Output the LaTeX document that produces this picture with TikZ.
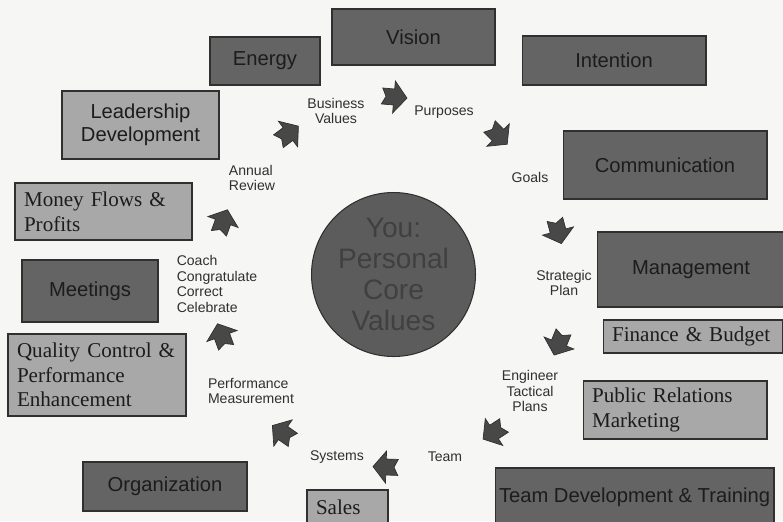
\documentclass[tikz,border=0pt]{standalone}
\usepackage{fontspec}
\setmainfont{Liberation Serif}
\setsansfont{Liberation Sans}
\usetikzlibrary{positioning}

\definecolor{paper}{RGB}{246,246,244}
\definecolor{darkfill}{RGB}{100,100,100}
\definecolor{lightfill}{RGB}{168,168,168}
\definecolor{corefill}{RGB}{92,92,92}
\definecolor{coretext}{RGB}{64,64,64}
\definecolor{boxedge}{RGB}{48,48,48}
\definecolor{boxtext}{RGB}{28,28,28}
\definecolor{labeltext}{RGB}{48,48,48}
\definecolor{arrowfill}{RGB}{72,72,72}

\begin{document}
\begin{tikzpicture}[x=0.02cm, y=-0.02cm, line width=0.6pt,
    darkbox/.style={draw=boxedge, fill=darkfill, text=boxtext, inner sep=0pt, align=center,
                    font=\fontsize{11.5}{13.5}\selectfont\sffamily},
    lightbox/.style={draw=boxedge, fill=lightfill, text=boxtext, inner sep=0pt},
    serifbox/.style={lightbox, align=left, inner xsep=0.18cm,
                     font=\fontsize{12}{14}\selectfont\rmfamily},
    steplabel/.style={text=labeltext, inner sep=0pt, align=center,
                      font=\fontsize{8}{9}\selectfont\sffamily},
    cyclearrow/.pic={
        \filldraw[draw=boxedge, fill=arrowfill, line width=0.4pt]
            (-12,8) -- (0,8) -- (0,16) -- (13,0) -- (0,-16) -- (0,-8) -- (-12,-8) -- (-8,0) -- cycle;
    }]
    \useasboundingbox (0,0) rectangle (783,521);
    \fill[paper] (0,0) rectangle (783,521);
    \clip (0,0) rectangle (783,521);

    % Centre
    \node [circle, draw=boxedge, fill=corefill, text=coretext, minimum size=3.28cm, inner sep=0pt,
           align=center, font=\fontsize{16}{17.5}\selectfont\sffamily] (core) at (393.5,274.5)
          {You:\\Personal\\Core\\Values};

    % Dark boxes
    \node [darkbox, minimum width=3.26cm, minimum height=1.12cm] (vision) at (413.5,37) {Vision};
    \node [darkbox, minimum width=3.68cm, minimum height=0.98cm] (intention) at (614,60.5) {Intention};
    \node [darkbox, minimum width=2.2cm, minimum height=0.96cm] (energy) at (265,61) {Energy};
    \node [darkbox, minimum width=4.08cm, minimum height=1.36cm] (comm) at (665,165) {Communication};
    \node [darkbox, minimum width=3.76cm, minimum height=1.5cm] (mgmt) at (691,269.5) {Management};
    \node [darkbox, minimum width=5.58cm, minimum height=1.16cm] (teamdev) at (634.5,497) {Team Development \& Training};
    \node [darkbox, minimum width=2.72cm, minimum height=1.24cm] (meetings) at (90,291) {Meetings};
    \node [darkbox, minimum width=3.28cm, minimum height=0.98cm] (org) at (165,486.5) {Organization};

    % Light boxes
    \node [lightbox, minimum width=3.14cm, minimum height=1.36cm, align=center,
           font=\fontsize{11.5}{13}\selectfont\sffamily] (leader) at (140.5,125) {Leadership\\Development};
    \node [serifbox, text width=3.18cm, minimum height=1.14cm] (money) at (103.5,211.5) {Money Flows \&\\Profits};
    \node [serifbox, text width=3.24cm, minimum height=0.66cm] (finance) at (693,336.5) {Finance \& Budget};
    \node [serifbox, text width=3.32cm, minimum height=1.16cm] (pr) at (675,410) {Public Relations\\Marketing};
    \node [serifbox, text width=3.2cm, minimum height=1.64cm] (quality) at (97,375) {Quality Control \&\\Performance\\Enhancement};
    \node [serifbox, text width=1.26cm, minimum height=0.68cm] (sales) at (347.5,507) {Sales};

    % Steps round the circle
    \node [steplabel] (business) at (336,111) {Business\\Values};
    \node [steplabel] (purposes) at (444,112) {Purposes};
    \node [steplabel] (goals) at (530,177) {Goals};
    \node [steplabel] (strategic) at (564,283) {Strategic\\Plan};
    \node [steplabel] (tactical) at (530,391) {Engineer\\Tactical\\Plans};
    \node [steplabel] (team) at (445,457) {Team};
    \node [steplabel] (systems) at (337,457) {Systems};
    \node [steplabel, align=left] (perf) at (251,391) {Performance\\Measurement};
    \node [steplabel, align=left] (coach) at (217,284) {Coach\\Congratulate\\Correct\\Celebrate};
    \node [steplabel, align=left] (annual) at (252,178) {Annual\\Review};

    % Arrows, clockwise
    \pic [rotate=-5] at (394,97) {cyclearrow};
    \pic [rotate=-45] at (498,135) {cyclearrow};
    \pic [rotate=-75] at (558,231) {cyclearrow};
    \pic [rotate=-112] at (559,343) {cyclearrow};
    \pic [rotate=-147] at (494,432) {cyclearrow};
    \pic [rotate=178] at (386,467) {cyclearrow};
    \pic [rotate=145] at (283,433) {cyclearrow};
    \pic [rotate=110] at (222,336) {cyclearrow};
    \pic [rotate=70] at (223,222) {cyclearrow};
    \pic [rotate=37] at (288,134) {cyclearrow};
\end{tikzpicture}
\end{document}
